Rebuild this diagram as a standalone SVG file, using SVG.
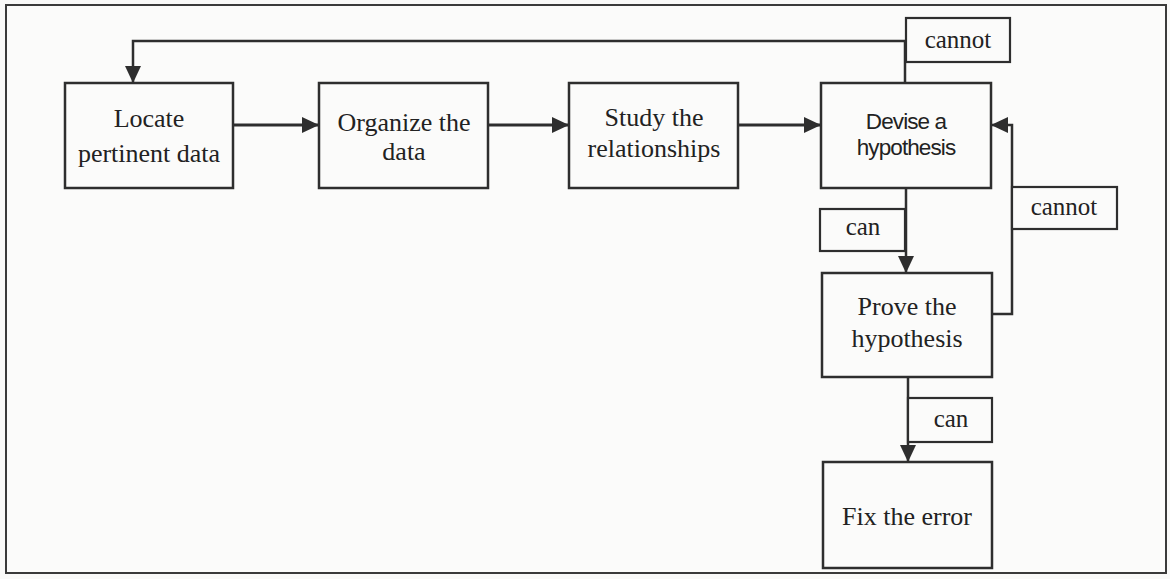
<svg xmlns="http://www.w3.org/2000/svg" width="1170" height="579" viewBox="0 0 1170 579">
  <style>
    .box { fill: #fbfbfa; stroke: #2e2e2e; stroke-width: 2.5; }
    .lbl { fill: #fbfbfa; stroke: #2e2e2e; stroke-width: 2.2; }
    .t { font-family: "Liberation Serif", "Times New Roman", serif; font-size: 26px; fill: #222; text-anchor: middle; }
    .ts { font-family: "Liberation Sans", Arial, sans-serif; font-size: 22.5px; fill: #222; text-anchor: middle; letter-spacing: -0.9px; }
    .tl { font-family: "Liberation Serif", "Times New Roman", serif; font-size: 25px; fill: #222; text-anchor: middle; }
    .c { fill: none; stroke: #2e2e2e; stroke-width: 2.5; }
    .ca { fill: none; stroke: #2e2e2e; stroke-width: 3; marker-end: url(#ah); }
    .cb { fill: none; stroke: #2e2e2e; stroke-width: 2.5; marker-end: url(#ah); }
  </style>
  <defs>
    <marker id="ah" markerUnits="userSpaceOnUse" markerWidth="18" markerHeight="18" refX="17" refY="8" orient="auto">
      <path d="M0,0 L17,8 L0,16 Z" fill="#2e2e2e"/>
    </marker>
  </defs>
  <rect x="0" y="0" width="1170" height="579" fill="#f9f9f8"/>
  <rect x="6" y="5" width="1160" height="568" fill="#fbfbfa" stroke="#3a3a3a" stroke-width="2"/>

  <g id="connectors">
    <path class="ca" d="M233,125 L319,125"/>
    <path class="ca" d="M488,125 L569,125"/>
    <path class="ca" d="M738,125 L821,125"/>
    <path class="cb" d="M905,83 L905,41 L133,41 L133,83"/>
    <path class="cb" d="M906,188 L906,273"/>
    <path class="cb" d="M992,314 L1012,314 L1012,125 L991,125"/>
    <path class="cb" d="M908,377 L908,462"/>
    <g id="label-cannot-top">
      <rect class="lbl" x="906" y="18" width="104" height="44"/>
      <text class="tl" x="958" y="48">cannot</text>
    </g>
    <g id="label-can-1">
      <rect class="lbl" x="820" y="209" width="85" height="42"/>
      <text class="tl" x="863" y="235">can</text>
    </g>
    <g id="label-cannot-right">
      <rect class="lbl" x="1012" y="187" width="105" height="42"/>
      <text class="tl" x="1064" y="215">cannot</text>
    </g>
    <g id="label-can-2">
      <rect class="lbl" x="908" y="398" width="84" height="44"/>
      <text class="tl" x="951" y="427">can</text>
    </g>
  </g>

  <g id="node-locate">
    <rect class="box" x="65" y="83" width="168" height="105"/>
    <text class="t" x="149" y="127">Locate</text>
    <text class="t" x="149" y="162">pertinent data</text>
  </g>
  <g id="node-organize">
    <rect class="box" x="319" y="83" width="169" height="105"/>
    <text class="t" x="404" y="131">Organize the</text>
    <text class="t" x="404" y="160">data</text>
  </g>
  <g id="node-study">
    <rect class="box" x="569" y="83" width="169" height="105"/>
    <text class="t" x="654" y="126">Study the</text>
    <text class="t" x="654" y="157">relationships</text>
  </g>
  <g id="node-devise">
    <rect class="box" x="821" y="83" width="170" height="105"/>
    <text class="ts" x="906" y="129">Devise a</text>
    <text class="ts" x="906" y="155">hypothesis</text>
  </g>
  <g id="node-prove">
    <rect class="box" x="822" y="273" width="170" height="104"/>
    <text class="t" x="907" y="315">Prove the</text>
    <text class="t" x="907" y="347">hypothesis</text>
  </g>
  <g id="node-fix">
    <rect class="box" x="823" y="462" width="169" height="106"/>
    <text class="t" x="907" y="525">Fix the error</text>
  </g>
</svg>
